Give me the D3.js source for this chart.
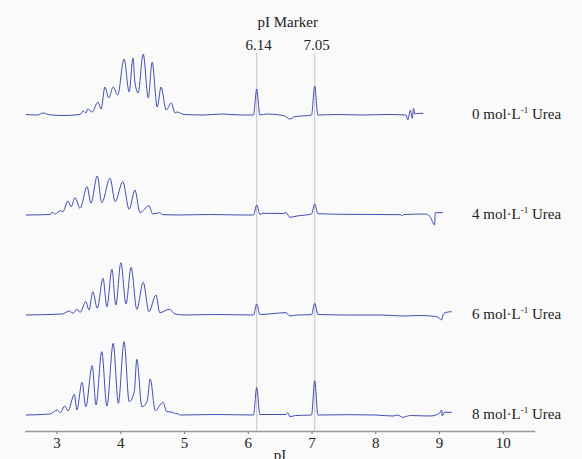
<!DOCTYPE html>
<html>
<head>
<meta charset="utf-8">
<script src="https://cdn.jsdelivr.net/npm/d3@7"></script>
<style>
    body { margin: 0; background: #fafafa; }
    text { font-family: "Liberation Serif", "Times New Roman", serif; fill: #222; }
</style>
</head>
<body>
<svg id="chart" width="582" height="459"></svg>
<script>
// urea concentration (mol/L) for each electropherogram
const conditions = ["0", "4", "6", "8"];
const markers = [6.14, 7.05];
const xTicks = [3, 4, 5, 6, 7, 8, 9, 10];

// [pI, signal]
const urea0 = [[2.52, 0.5], [2.70, 0], [2.79, 2], [2.88, 0.3], [3.10, -0.5], [3.37, 0.5], [3.42, 4], [3.46, 2],
    [3.49, 6], [3.56, 3], [3.65, 13], [3.70, 6], [3.76, 28], [3.82, 17], [3.89, 28], [3.96, 20], [4.06, 56],
    [4.14, 23], [4.20, 57], [4.23, 33], [4.28, 22], [4.36, 61], [4.44, 17], [4.50, 53], [4.58, 8], [4.64, 28],
    [4.72, 5], [4.80, 12], [4.86, 2], [4.89, 3], [4.94, 2], [5.00, 0.5], [5.30, 0], [5.60, 1], [5.90, 0],
    [6.09, 0], [6.14, 26], [6.19, 0], [6.30, 1], [6.50, 0], [6.58, -1], [6.66, -4], [6.74, -1.5], [6.95, -0.5],
    [7.00, 0], [7.05, 29], [7.10, 0], [7.40, 0.5], [7.80, 0], [8.20, 0.5], [8.48, 0], [8.51, -5], [8.55, 5],
    [8.58, -3.3], [8.60, 6.7], [8.62, 1], [8.65, 1.5], [8.75, 1.7]];

const urea4 = [[2.52, 0], [2.90, 0.5], [2.93, 2.7], [2.98, 1], [3.06, 4.3], [3.10, 3.3], [3.18, 14], [3.23, 8.3],
    [3.29, 17.3], [3.37, 6.7], [3.48, 28.3], [3.54, 11.7], [3.64, 39], [3.71, 12.3], [3.84, 36.7], [3.92, 13.3],
    [4.04, 33.3], [4.14, 5.7], [4.23, 25], [4.31, 2.3], [4.45, 9.3], [4.51, 1], [4.62, 2.3], [4.67, 0.3],
    [4.90, 0], [5.40, 0.5], [5.90, 0], [6.09, 0], [6.14, 10], [6.19, 0.5], [6.24, 1.7], [6.55, 1.5], [6.60, 2.3],
    [6.66, -2.3], [6.77, -1], [7.00, 1], [7.05, 11], [7.10, 1.3], [7.50, 0.7], [8.00, 0.5], [8.40, 0.3],
    [8.42, -1], [8.45, 0.5], [8.78, 1], [8.86, -1.7], [8.93, -10], [8.94, 2.3], [9.06, 2.3]];

const urea6 = [[2.52, 0], [3.09, 1], [3.20, 4], [3.26, 1.7], [3.32, 5.7], [3.37, 2.7], [3.46, 13.3], [3.51, 5],
    [3.57, 23.3], [3.64, 6.7], [3.73, 36.7], [3.79, 8.3], [3.87, 45.7], [3.93, 10], [4.01, 52.3], [4.09, 11],
    [4.17, 47.7], [4.26, 5.7], [4.36, 32.7], [4.45, 3.3], [4.56, 20], [4.62, 2.3], [4.77, 5.7], [4.86, 1],
    [5.00, 0], [5.50, 0.5], [6.09, 0], [6.14, 11], [6.19, 0.5], [6.60, 2.3], [6.66, -1], [6.77, 0], [7.00, 0.3],
    [7.05, 11.7], [7.10, 0.5], [7.60, 0], [8.10, 0], [8.42, -1], [8.70, -0.5], [8.95, -1.5], [9.00, -3],
    [9.04, -5], [9.06, 0], [9.10, 2.5], [9.20, 3.3]];

const urea8 = [[2.52, 0], [2.90, 1], [3.01, 5], [3.06, 2.3], [3.13, 9], [3.18, 4], [3.28, 20.7], [3.32, 5],
    [3.40, 32.7], [3.46, 8.3], [3.56, 49.3], [3.62, 10], [3.71, 63.3], [3.79, 9], [3.89, 71.7], [3.97, 11.7],
    [4.06, 73.3], [4.14, 13.3], [4.22, 23.3], [4.26, 55.7], [4.34, 8.3], [4.42, 13.3], [4.47, 36], [4.55, 4.3],
    [4.67, 12.7], [4.73, 3.3], [4.83, 2.7], [4.86, 1], [4.87, 1.7], [4.95, 0], [5.50, 0.5], [6.09, 0],
    [6.14, 27.7], [6.19, 0.5], [6.60, 0.5], [6.63, 2.3], [6.66, -1.7], [6.75, -0.5], [7.00, 0], [7.05, 34.3],
    [7.10, 0], [7.60, 0.3], [8.00, 0], [8.28, -1], [8.35, 0], [8.43, -2.3], [8.55, -0.5], [8.86, -1], [8.95, 0],
    [9.01, 2], [9.04, 5], [9.05, -1], [9.08, 2.7], [9.20, 2.7]];

const traces = [urea0, urea4, urea6, urea8];

const svg = d3.select("#chart");
const axisY = 431;

const x = d3.scaleLinear().domain([2.5, 10.5]).range([24.6, 534.7]);
// baseline of each trace
const yBase = d3.scalePoint().domain(conditions).range([115, 415]);
// signal height (same units on every trace)
const ySig = d3.scaleLinear().domain([0, 100]).range([0, -100]);

// pI marker lines
svg.append("g")
    .selectAll("line")
    .data(markers)
    .enter()
    .append("line")
    .attr("x1", d => x(d))
    .attr("x2", d => x(d))
    .attr("y1", 53)
    .attr("y2", axisY)
    .attr("stroke", "#c4c4c4")
    .attr("stroke-width", 1);

svg.append("g")
    .selectAll("text")
    .data(markers)
    .enter()
    .append("text")
    .attr("x", d => x(d) + 2)
    .attr("y", 50)
    .attr("text-anchor", "middle")
    .style("font-size", "15px")
    .text(d => d.toFixed(2));

svg.append("text")
    .attr("x", d3.mean(markers, d => x(d)) + 2)
    .attr("y", 27)
    .attr("text-anchor", "middle")
    .style("font-size", "15px")
    .text("pI Marker");

// traces
conditions.forEach((c, i) => {
    const line = d3.line()
        .x(d => x(d[0]))
        .y(d => yBase(c) + ySig(d[1]))
        .curve(d3.curveMonotoneX);

    svg.append("path")
        .datum(traces[i])
        .attr("fill", "none")
        .attr("stroke", "#3f4db2")
        .attr("stroke-width", 1)
        .attr("d", line);

    const lbl = svg.append("text")
        .attr("x", 472)
        .attr("y", yBase(c) + 4)
        .style("font-size", "15px");
    lbl.append("tspan").text(c + " mol\u00b7L");
    lbl.append("tspan").attr("dy", -6).style("font-size", "9px").text("-1");
    lbl.append("tspan").attr("dy", 6).text(" Urea");
});

// x axis
const gx = svg.append("g")
    .attr("transform", `translate(0,${axisY})`)
    .call(d3.axisBottom(x).tickValues(xTicks).tickSize(3).tickPadding(3).tickSizeOuter(0));
gx.select(".domain").attr("stroke", "#9a9a9a").attr("stroke-width", 1.5);
gx.selectAll(".tick line").attr("stroke", "#777");
gx.selectAll(".tick text")
    .style("font-family", "Liberation Serif, serif")
    .style("font-size", "15px")
    .attr("fill", "#222");

// axis title sits at the bottom edge, partly cut off as in the original
svg.append("text")
    .attr("x", 280)
    .attr("y", 460)
    .attr("text-anchor", "middle")
    .style("font-size", "15px")
    .text("pI");
</script>
</body>
</html>
